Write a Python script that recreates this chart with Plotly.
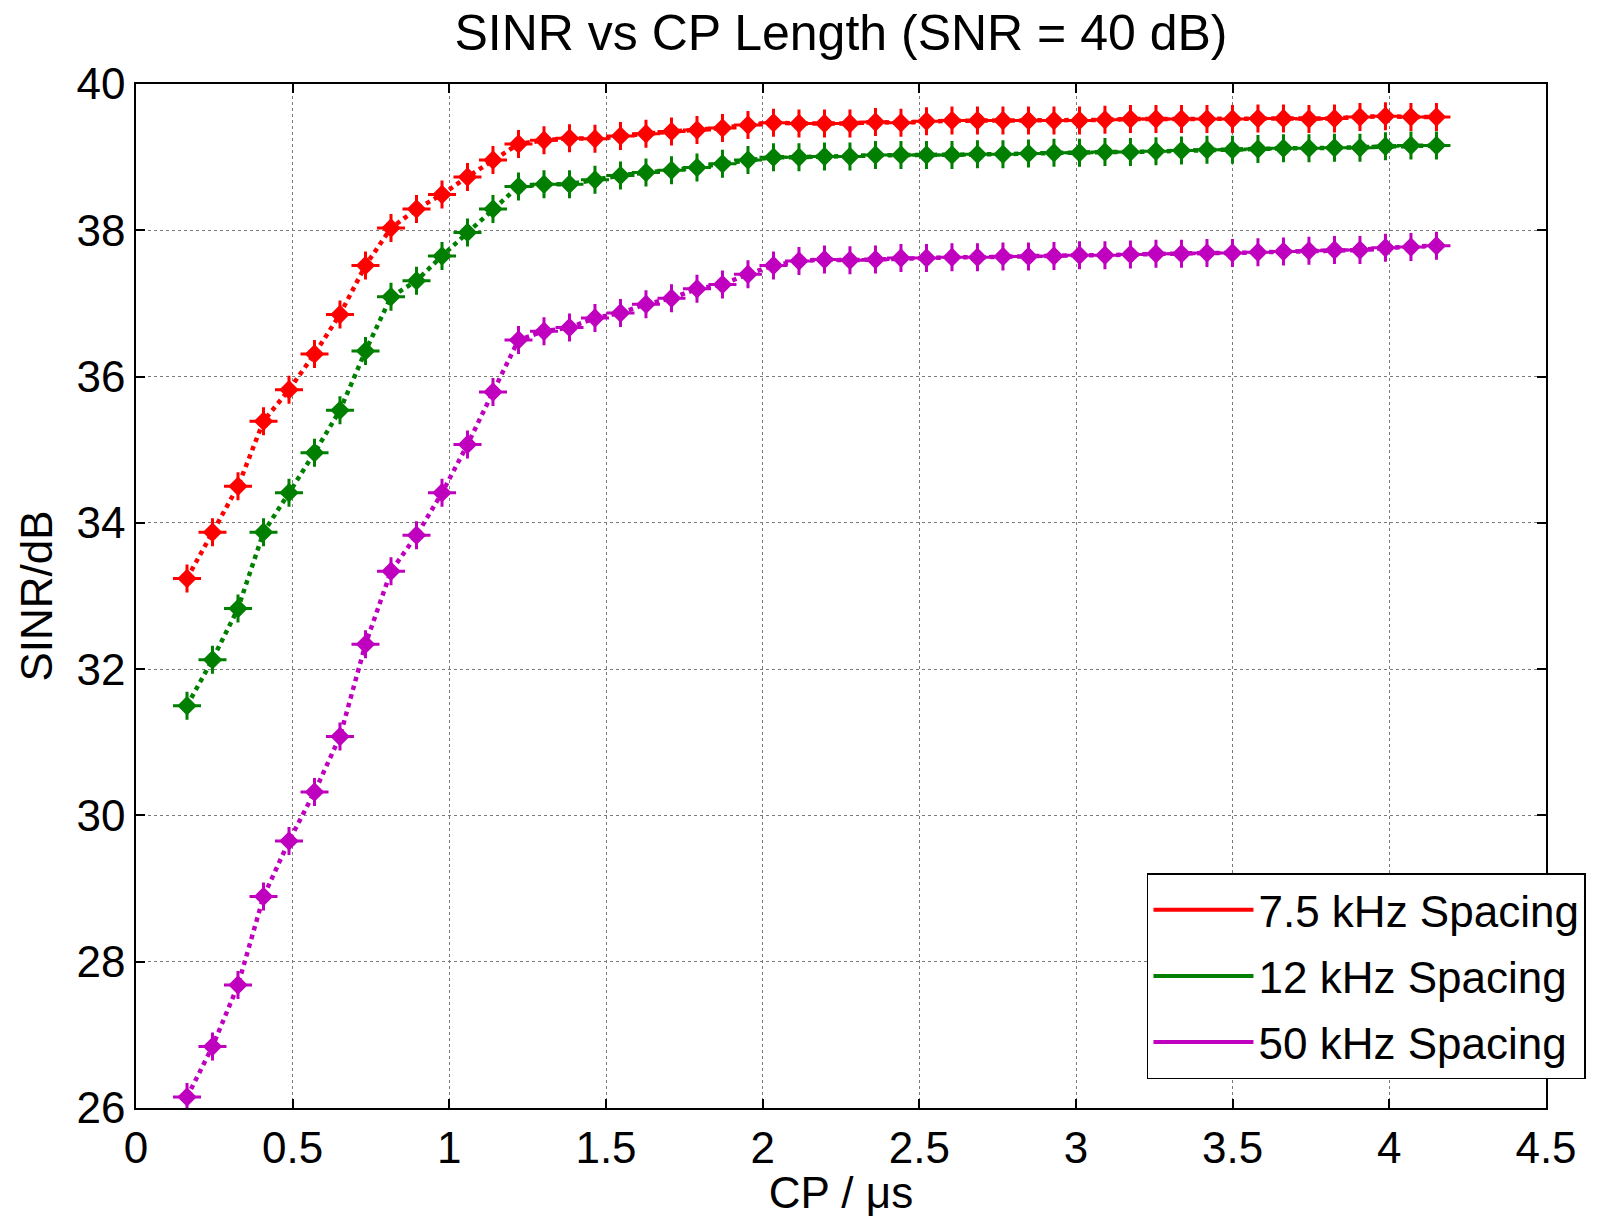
import plotly.graph_objects as go

cp_us = [0.1628, 0.2441, 0.3255, 0.4069, 0.4883, 0.5697, 0.6510, 0.7324, 0.8138, 0.8952,
         0.9766, 1.0579, 1.1393, 1.2207, 1.3021, 1.3835, 1.4648, 1.5462, 1.6276, 1.7090,
         1.7904, 1.8717, 1.9531, 2.0345, 2.1159, 2.1973, 2.2786, 2.3600, 2.4414, 2.5228,
         2.6042, 2.6855, 2.7669, 2.8483, 2.9297, 3.0111, 3.0924, 3.1738, 3.2552, 3.3366,
         3.4180, 3.4993, 3.5807, 3.6621, 3.7435, 3.8249, 3.9063, 3.9876, 4.0690, 4.1504]

sinr_7_5 = [33.24, 33.87, 34.50, 35.39, 35.82, 36.31, 36.85, 37.52, 38.03, 38.29,
            38.49, 38.73, 38.96, 39.18, 39.23, 39.26, 39.25, 39.29, 39.32, 39.35,
            39.37, 39.40, 39.44, 39.47, 39.46, 39.46, 39.46, 39.48, 39.47, 39.49,
            39.50, 39.50, 39.50, 39.50, 39.50, 39.50, 39.51, 39.52, 39.52, 39.52,
            39.52, 39.52, 39.53, 39.53, 39.52, 39.53, 39.55, 39.56, 39.55, 39.55]

sinr_12 = [31.50, 32.13, 32.83, 33.87, 34.41, 34.96, 35.54, 36.35, 37.09, 37.31,
           37.65, 37.97, 38.29, 38.60, 38.63, 38.63, 38.69, 38.75, 38.79, 38.82,
           38.86, 38.91, 38.96, 39.00, 39.00, 39.01, 39.01, 39.03, 39.03, 39.03,
           39.03, 39.04, 39.04, 39.05, 39.06, 39.06, 39.07, 39.07, 39.08, 39.09,
           39.10, 39.10, 39.11, 39.12, 39.12, 39.13, 39.13, 39.15, 39.16, 39.16]

sinr_50 = [26.15, 26.84, 27.68, 28.89, 29.65, 30.32, 31.08, 32.34, 33.34, 33.83,
           34.41, 35.07, 35.79, 36.50, 36.62, 36.67, 36.80, 36.87, 36.99, 37.07,
           37.20, 37.26, 37.40, 37.52, 37.58, 37.60, 37.59, 37.60, 37.62, 37.62,
           37.63, 37.63, 37.64, 37.64, 37.65, 37.66, 37.66, 37.67, 37.68, 37.68,
           37.69, 37.69, 37.70, 37.71, 37.72, 37.73, 37.73, 37.76, 37.77, 37.79]

series_names = ["7.5 kHz Spacing", "12 kHz Spacing", "50 kHz Spacing"]
series_values = [sinr_7_5, sinr_12, sinr_50]
series_colors = ["#ff0000", "#007f00", "#bf00bf"]

x_ticks = [0, 0.5, 1, 1.5, 2, 2.5, 3, 3.5, 4, 4.5]
x_tick_labels = ["0", "0.5", "1", "1.5", "2", "2.5", "3", "3.5", "4", "4.5"]
y_ticks = [26, 28, 30, 32, 34, 36, 38, 40]

FONT = "Liberation Sans, Arial, sans-serif"

fig = go.Figure()

for name, vals, col in zip(series_names, series_values, series_colors):
    fig.add_trace(go.Scatter(
        x=cp_us, y=vals, mode="lines+markers", showlegend=False,
        line=dict(color=col, width=4.5, dash="dot"),
        marker=dict(symbol="diamond", size=15, color=col, line=dict(width=0)),
    ))
    fig.add_trace(go.Scatter(
        x=cp_us, y=vals, mode="markers", showlegend=False, hoverinfo="skip",
        marker=dict(symbol="cross-thin", size=20, color=col,
                    line=dict(width=3, color=col)),
    ))

for i, (name, col) in enumerate(zip(series_names, series_colors)):
    fig.add_trace(go.Scatter(
        x=[None], y=[None], mode="lines", name=name, legendgroup=str(i),
        line=dict(color=col, width=4),
    ))

axis_common = dict(
    showline=True, linecolor="black", linewidth=1.5, mirror="ticks",
    ticks="inside", ticklen=9, tickwidth=1.5, tickcolor="black",
    showgrid=True, gridcolor="#7a7a7a", gridwidth=1, griddash="dot",
    zeroline=False,
    tickfont=dict(family=FONT, size=44, color="black"),
)

fig.update_layout(
    width=1598, height=1217,
    margin=dict(l=136, r=52, t=84, b=109),
    paper_bgcolor="white", plot_bgcolor="white",
    font=dict(family=FONT, color="black"),
    title=dict(text="SINR vs CP Length (SNR = 40 dB)", xref="paper", x=0.5, xanchor="center",
               y=0.973, yanchor="middle",
               font=dict(family=FONT, size=50, color="black")),
    xaxis=dict(range=[0, 4.5], tickvals=x_ticks, ticktext=x_tick_labels,
               title=dict(text="CP / μs", font=dict(family=FONT, size=44), standoff=4),
               **axis_common),
    yaxis=dict(range=[26, 40], tickvals=y_ticks,
               title=dict(text="SINR/dB", font=dict(family=FONT, size=44), standoff=10),
               **axis_common),
    legend=dict(x=0.717, y=0.2294, xanchor="left", yanchor="top",
                bgcolor="white", bordercolor="black", borderwidth=1.5,
                font=dict(family=FONT, size=44, color="black"),
                itemwidth=100, tracegroupgap=6, traceorder="grouped"),
)

fig.write_html("out.html")
